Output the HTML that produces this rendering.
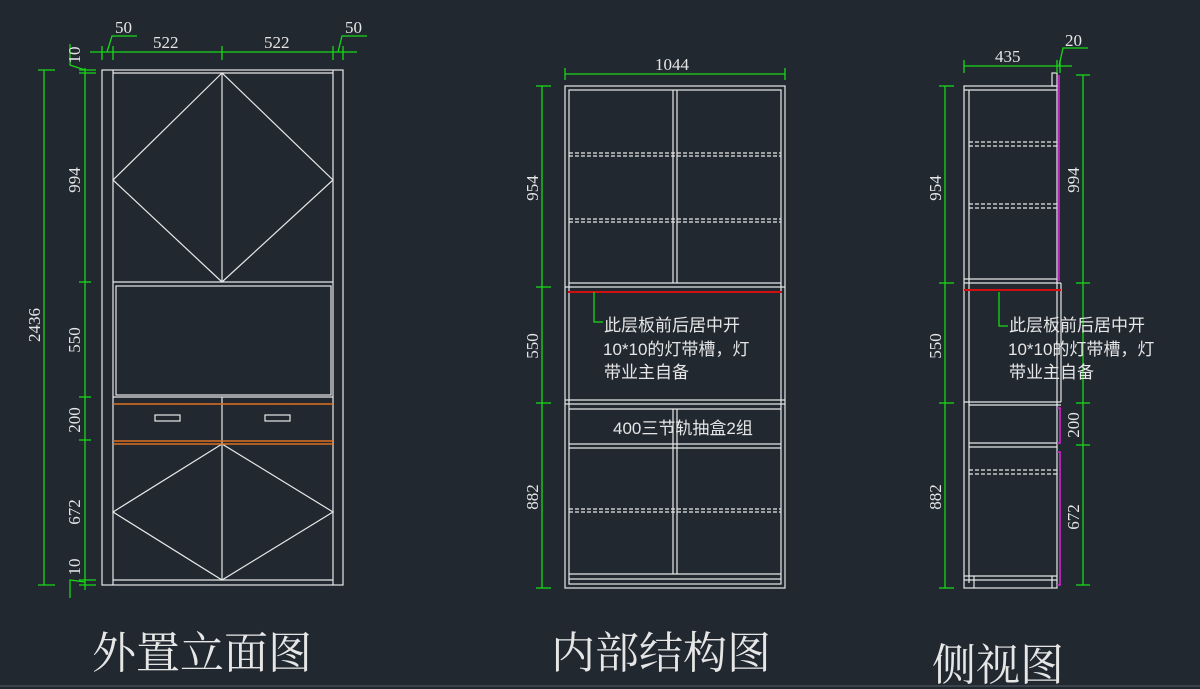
<!DOCTYPE html>
<html><head><meta charset="utf-8"><style>
html,body{margin:0;padding:0;background:#212830;}
svg{display:block}
text{font-family:"Liberation Sans","Noto Sans CJK SC",sans-serif;fill:#e6e6e6}
.d text{font-family:"Liberation Serif","Noto Serif CJK SC",serif}
.t{font-family:"Liberation Serif","Noto Serif CJK SC",serif}
</style></head><body>
<svg width="1200" height="689" viewBox="0 0 1200 689" xmlns="http://www.w3.org/2000/svg">
<rect width="1200" height="689" fill="#212830"/>
<g fill="none" stroke="#e8e8e8" stroke-width="1.2">
<rect x="102" y="70" width="241" height="515"/>
<line x1="113" y1="70" x2="113" y2="585"/><line x1="333" y1="70" x2="333" y2="585"/>
<line x1="113" y1="73" x2="333" y2="73"/>
<line x1="222" y1="73" x2="222" y2="282"/>
<line x1="113" y1="282" x2="333" y2="282"/>
<polygon points="222,73 113,180 222,282 333,180"/>
<rect x="116" y="286" width="215" height="109"/>
<line x1="113" y1="397" x2="333" y2="397"/>
<line x1="222" y1="397" x2="222" y2="580"/>
<rect x="155" y="415" width="25" height="6"/><rect x="265" y="415" width="25" height="6"/>
<polygon points="222,444 113,512 222,580 333,512"/>
<line x1="113" y1="580" x2="333" y2="580"/>
</g>
<g stroke="#e07020" stroke-width="1.5">
<line x1="113" y1="404" x2="333" y2="404"/><line x1="113" y1="441" x2="333" y2="441"/><line x1="113" y1="444" x2="333" y2="444"/>
</g>
<g fill="none" stroke="#e8e8e8" stroke-width="1.2">
<rect x="565" y="86" width="220" height="502"/>
<rect x="569" y="90" width="212" height="494"/>
<line x1="673" y1="90" x2="673" y2="283"/><line x1="677" y1="90" x2="677" y2="283"/>
<line x1="569" y1="283" x2="781" y2="283"/><line x1="565" y1="287" x2="785" y2="287"/>
<line x1="565" y1="400" x2="785" y2="400"/><line x1="565" y1="404" x2="785" y2="404"/>
<line x1="569" y1="409" x2="781" y2="409"/>
<line x1="569" y1="444" x2="781" y2="444"/><line x1="569" y1="448" x2="781" y2="448"/>
<line x1="673" y1="409" x2="673" y2="574"/><line x1="677" y1="409" x2="677" y2="574"/>
<line x1="569" y1="574" x2="781" y2="574"/><line x1="569" y1="579" x2="781" y2="579"/>
<g stroke-dasharray="4,2"><line x1="569" y1="153" x2="781" y2="153"/><line x1="569" y1="156" x2="781" y2="156"/>
<line x1="569" y1="219" x2="781" y2="219"/><line x1="569" y1="222" x2="781" y2="222"/>
<line x1="569" y1="509" x2="781" y2="509"/><line x1="569" y1="512" x2="781" y2="512"/></g>
</g>
<line x1="568" y1="292" x2="782" y2="292" stroke="#d01010" stroke-width="2"/>
<g fill="none" stroke="#e8e8e8" stroke-width="1.2">
<rect x="964" y="86" width="93" height="502"/>
<line x1="969" y1="90" x2="969" y2="583"/>
<line x1="964" y1="90" x2="1057" y2="90"/>
<rect x="1052" y="73" width="5" height="13"/>
<line x1="964" y1="279" x2="1057" y2="279"/><line x1="964" y1="283" x2="1061" y2="283"/>
<line x1="969" y1="405" x2="1061" y2="405"/><line x1="964" y1="402" x2="1061" y2="402"/>
<line x1="1061" y1="283" x2="1061" y2="402"/>
<line x1="969" y1="443" x2="1057" y2="443"/><line x1="969" y1="447" x2="1057" y2="447"/>
<line x1="964" y1="576" x2="1057" y2="576"/><line x1="964" y1="580" x2="1057" y2="580"/>
<line x1="974" y1="576" x2="974" y2="588"/><line x1="1052" y1="576" x2="1052" y2="588"/>
<g stroke-dasharray="4,2"><line x1="969" y1="142" x2="1057" y2="142"/><line x1="969" y1="146" x2="1057" y2="146"/>
<line x1="969" y1="204" x2="1057" y2="204"/><line x1="969" y1="208" x2="1057" y2="208"/>
<line x1="969" y1="470" x2="1057" y2="470"/><line x1="969" y1="474" x2="1057" y2="474"/></g>
</g>
<line x1="964" y1="290" x2="1061" y2="290" stroke="#d01010" stroke-width="2"/>
<g stroke="#e020e0" stroke-width="1.5" fill="none">
<polyline points="1059,75 1059,281"/>
<polyline points="1057,408 1060,408 1060,443 1057,443"/>
<polyline points="1057,452 1060,452 1060,585 1057,585"/>
</g>
<g stroke="#18d818" stroke-width="1.3" fill="none">
<line x1="44" y1="70" x2="44" y2="585"/><line x1="38" y1="70" x2="55" y2="70"/><line x1="38" y1="585" x2="55" y2="585"/>
<line x1="85" y1="68" x2="85" y2="590"/>
<g><line x1="79" y1="73" x2="96" y2="73"/><line x1="79" y1="70" x2="96" y2="70"/><line x1="79" y1="282" x2="91" y2="282"/><line x1="79" y1="397" x2="91" y2="397"/><line x1="79" y1="440" x2="91" y2="440"/><line x1="79" y1="580" x2="96" y2="580"/><line x1="79" y1="585" x2="96" y2="585"/></g>
<polyline points="70,44 70,65 85,70"/><polyline points="70,598 70,580 85,582"/>
<line x1="90" y1="52" x2="357" y2="52"/>
<g><line x1="102" y1="46" x2="102" y2="60"/><line x1="113" y1="46" x2="113" y2="60"/><line x1="222" y1="46" x2="222" y2="60"/><line x1="333" y1="46" x2="333" y2="60"/><line x1="343" y1="46" x2="343" y2="60"/></g>
<polyline points="107,52 112,36 137,36"/><polyline points="338,52 342,36 367,36"/>
<line x1="565" y1="74" x2="785" y2="74"/><line x1="565" y1="68" x2="565" y2="80"/><line x1="785" y1="68" x2="785" y2="80"/>
<line x1="542" y1="86" x2="542" y2="588"/>
<g><line x1="536" y1="86" x2="551" y2="86"/><line x1="536" y1="287" x2="551" y2="287"/><line x1="536" y1="403" x2="551" y2="403"/><line x1="536" y1="588" x2="551" y2="588"/></g>
<polyline points="594,292 594,322 603,322"/>
<line x1="964" y1="66" x2="1072" y2="66"/><line x1="964" y1="60" x2="964" y2="73"/><line x1="1057" y1="60" x2="1057" y2="73"/><line x1="1060" y1="60" x2="1060" y2="73"/>
<polyline points="1059,66 1063,48 1088,48"/>
<line x1="945" y1="86" x2="945" y2="588"/>
<g><line x1="939" y1="86" x2="954" y2="86"/><line x1="939" y1="283" x2="954" y2="283"/><line x1="939" y1="403" x2="954" y2="403"/><line x1="939" y1="588" x2="954" y2="588"/></g>
<line x1="1083" y1="75" x2="1083" y2="585"/>
<g><line x1="1076" y1="75" x2="1090" y2="75"/><line x1="1076" y1="283" x2="1090" y2="283"/><line x1="1076" y1="403" x2="1090" y2="403"/><line x1="1076" y1="445" x2="1090" y2="445"/><line x1="1076" y1="585" x2="1090" y2="585"/></g>
<polyline points="999,292 999,326 1008,326"/>
</g>
<g class="d" font-size="17">
<text x="115" y="33">50</text><text x="345" y="33">50</text>
<text x="153" y="48">522</text><text x="264" y="48">522</text>
<text x="655" y="70">1044</text>
<text x="995" y="62">435</text><text x="1065" y="46">20</text>
<g text-anchor="middle">
<text transform="translate(40,325) rotate(-90)">2436</text>
<text transform="translate(80,55) rotate(-90)">10</text>
<text transform="translate(80,180) rotate(-90)">994</text>
<text transform="translate(80,340) rotate(-90)">550</text>
<text transform="translate(80,420) rotate(-90)">200</text>
<text transform="translate(80,512) rotate(-90)">672</text>
<text transform="translate(80,567) rotate(-90)">10</text>
<text transform="translate(538,188) rotate(-90)">954</text>
<text transform="translate(538,346) rotate(-90)">550</text>
<text transform="translate(538,497) rotate(-90)">882</text>
<text transform="translate(941,188) rotate(-90)">954</text>
<text transform="translate(941,346) rotate(-90)">550</text>
<text transform="translate(941,497) rotate(-90)">882</text>
<text transform="translate(1079,180) rotate(-90)">994</text>
<text transform="translate(1079,425) rotate(-90)">200</text>
<text transform="translate(1079,517) rotate(-90)">672</text>
</g>
</g>
<g font-size="17">
<text x="604" y="331">此层板前后居中开</text>
<text x="603" y="355">10*10的灯带槽，灯</text>
<text x="604" y="378">带业主自备</text>
<text x="613" y="434">400三节轨抽盒2组</text>
<text x="1009" y="331">此层板前后居中开</text>
<text x="1008" y="355">10*10的灯带槽，灯</text>
<text x="1009" y="378">带业主自备</text>
</g>
<g font-size="44">
<text class="t" x="92" y="668">外置立面图</text>
<text class="t" x="551" y="668">内部结构图</text>
<text class="t" x="932" y="680">侧视图</text>
</g>
<line x1="0" y1="686" x2="1200" y2="686" stroke="#3a424c" stroke-width="2"/>
</svg>
</body></html>
